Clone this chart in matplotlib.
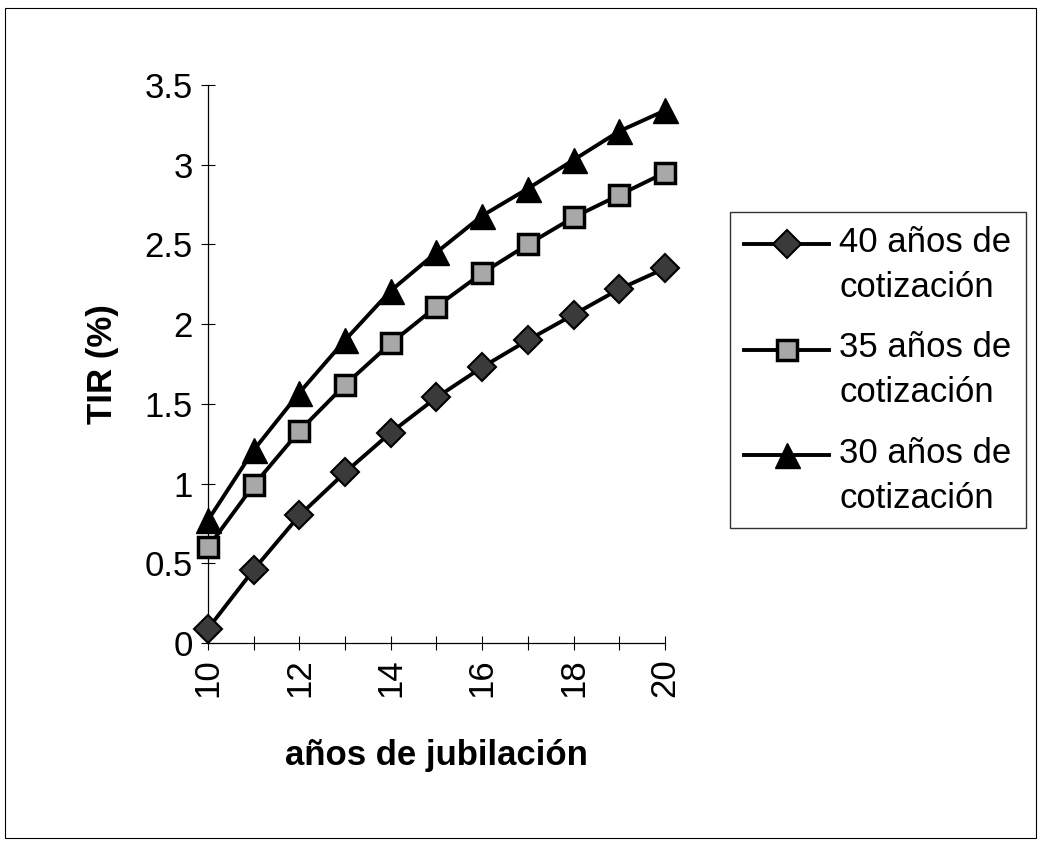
import numpy as np
import matplotlib
matplotlib.use("Agg")
import matplotlib.pyplot as plt
from matplotlib.patches import Rectangle
from matplotlib.lines import Line2D
from matplotlib.legend_handler import HandlerLine2D

plt.rcParams['font.family'] = ['Liberation Sans', 'DejaVu Sans']

# years of retirement (x) and TIR (%) for each contribution period
years = [10, 11, 12, 13, 14, 15, 16, 17, 18, 19, 20]
tir_40 = [0.09, 0.46, 0.80, 1.07, 1.32, 1.54, 1.73, 1.90, 2.06, 2.22, 2.35]
tir_35 = [0.60, 0.99, 1.33, 1.62, 1.88, 2.11, 2.32, 2.50, 2.67, 2.81, 2.95]
tir_30 = [0.77, 1.21, 1.57, 1.90, 2.21, 2.45, 2.68, 2.85, 3.03, 3.21, 3.34]
labels = ['40 años de\ncotización', '35 años de\ncotización', '30 años de\ncotización']
y_ticks = [0, 0.5, 1, 1.5, 2, 2.5, 3, 3.5]


class FirstLineHandler(HandlerLine2D):
    # put the legend sample next to the first line of a two-line label
    def create_artists(self, legend, orig_handle, xdescent, ydescent,
                       width, height, fontsize, trans):
        return super().create_artists(legend, orig_handle, xdescent, ydescent - 31,
                                      width, height, fontsize, trans)


fig = plt.figure(figsize=(10.43, 8.48), dpi=100)
ax = fig.add_axes([0.1994, 0.2417, 0.4382, 0.6581])

ax.plot(years, tir_40, color='black', lw=2.8, marker='D', ms=14,
        mfc='#3a3a3a', mec='black', mew=1.5, label=labels[0], clip_on=False, zorder=3)
ax.plot(years, tir_35, color='black', lw=2.8, marker='s', ms=15,
        mfc='#a8a8a8', mec='black', mew=2.5, label=labels[1], clip_on=False, zorder=3)
ax.plot(years, tir_30, color='black', lw=2.8, marker='^', ms=18,
        mfc='black', mec='black', mew=1, label=labels[2], clip_on=False, zorder=3)

ax.set_xlim(10, 20)
ax.set_ylim(0, 3.5)
ax.set_xticks(years)
ax.set_xticklabels([str(y) if y % 2 == 0 else '' for y in years], rotation=90)
ax.set_yticks(y_ticks)
ax.set_yticklabels(['0', '0.5', '1', '1.5', '2', '2.5', '3', '3.5'])
ax.tick_params(direction='inout', length=10, width=0.8, labelsize=25, pad=6, colors='black')

for s in ['top', 'right']:
    ax.spines[s].set_visible(False)
for s in ['left', 'bottom']:
    ax.spines[s].set_linewidth(0.9)

ax.set_ylabel('TIR (%)', fontsize=25, fontweight='bold', labelpad=18)
ax.set_xlabel('años de jubilación', fontsize=25, fontweight='bold', labelpad=30)

leg = ax.legend(loc='upper left', bbox_to_anchor=(0.700, 0.750), bbox_transform=fig.transFigure,
                fontsize=25, frameon=True, fancybox=False, edgecolor='black',
                borderaxespad=0, handlelength=2.45, handletextpad=0.3, labelspacing=0.8,
                borderpad=0.4, handler_map={Line2D: FirstLineHandler()})
leg.get_frame().set_linewidth(1.0)
for t in leg.get_texts():
    t.set_linespacing(1.45)

fig.patches.append(Rectangle((0.005, 0.012), 0.988, 0.978, transform=fig.transFigure,
                             fill=False, edgecolor='black', lw=0.8))

fig.savefig('out.png', dpi=100, facecolor='white')
